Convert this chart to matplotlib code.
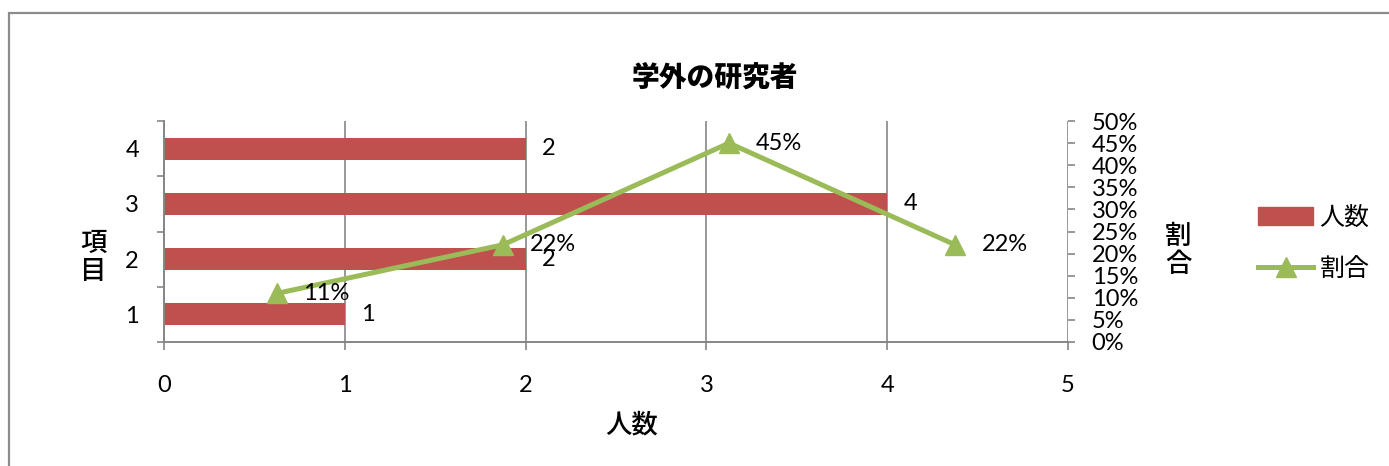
import matplotlib
matplotlib.use("Agg")
import matplotlib.pyplot as plt
from matplotlib.patches import Rectangle
from matplotlib.lines import Line2D
from matplotlib.patches import Patch
from matplotlib.ticker import PercentFormatter

plt.rcParams['font.family'] = ['Lato', 'Noto Sans CJK JP', 'DejaVu Sans']

items = [1, 2, 3, 4]
counts = [1, 2, 4, 2]
ratios = [0.11, 0.22, 0.45, 0.22]
ratio_labels = ['11%', '22%', '45%', '22%']

bar_color = '#C0504D'
line_color = '#9BBB59'
axis_gray = '#868686'

W, H = 1389, 466
fig = plt.figure(figsize=(W / 100, H / 100), dpi=100)

# chart frame, runs off the right and bottom edges
fig.add_artist(Rectangle((9 / W, -0.1), 1.2, 1.1 - 13 / H, transform=fig.transFigure,
                         fill=False, edgecolor='#8C8C8C', lw=1.6))

rect = [164 / W, 1 - 342 / H, (1068 - 164) / W, (342 - 121) / H]
ax = fig.add_axes(rect)

ax.barh(items, counts, height=0.4, color=bar_color, zorder=2)
for y, v in zip(items, counts):
    ax.annotate(str(v), (v, y), xytext=(12, 0), textcoords='offset points',
                ha='left', va='center', fontsize=17)

ax.set_xlim(0, 5)
ax.set_ylim(0.5, 4.5)
ax.set_xticks(range(6))
ax.set_yticks(items)
ax.set_yticks([0.5, 1.5, 2.5, 3.5, 4.5], minor=True)
ax.tick_params(axis='y', which='major', length=0, pad=18, labelsize=17)
ax.tick_params(axis='y', which='minor', length=5, color=axis_gray, width=1.2)
ax.tick_params(axis='x', length=6, color=axis_gray, width=1.2, pad=18, labelsize=17)
ax.grid(axis='x', color=axis_gray, lw=1.2, zorder=1)
for side in ['top', 'right']:
    ax.spines[side].set_visible(False)
for side in ['left', 'bottom']:
    ax.spines[side].set_color(axis_gray)
    ax.spines[side].set_linewidth(1.4)

# percentage line on its own category axis
ax2 = fig.add_axes(rect, frameon=False)
ax2.plot(range(len(ratios)), ratios, color=line_color, lw=3.6, marker='^',
         markersize=15, zorder=3)
for i, (r, lab) in enumerate(zip(ratios, ratio_labels)):
    ax2.annotate(lab, (i, r), xytext=(19, 0), textcoords='offset points',
                 ha='left', va='center', fontsize=17)
ax2.set_xlim(-0.5, len(ratios) - 0.5)
ax2.set_ylim(0, 0.5)
ax2.set_yticks([i * 0.05 for i in range(11)])
ax2.yaxis.set_major_formatter(PercentFormatter(1.0, decimals=0))
ax2.xaxis.set_visible(False)
ax2.yaxis.tick_right()
ax2.spines['right'].set_visible(True)
ax2.spines['right'].set_color(axis_gray)
ax2.spines['right'].set_linewidth(1.4)
ax2.tick_params(axis='y', length=5, color=axis_gray, width=1.2, pad=12, labelsize=17)

fig.text(715 / W, 1 - 77 / H, '学外の研究者', ha='center', va='center',
         fontsize=20, fontweight='heavy', family=['Noto Sans CJK JP'])
fig.text(632 / W, 1 - 425 / H, '人数', ha='center', va='center',
         fontsize=19, fontweight='medium', family=['Noto Sans CJK JP'])
fig.text(93 / W, 1 - 257 / H, '項\n目', ha='center', va='center',
         fontsize=19, fontweight='medium', linespacing=1.05, family=['Noto Sans CJK JP'])
fig.text(1178 / W, 1 - 250 / H, '割\n合', ha='center', va='center',
         fontsize=19, fontweight='medium', linespacing=1.05, family=['Noto Sans CJK JP'])

handles = [Patch(color=bar_color, label='人数'),
           Line2D([], [], color=line_color, lw=3.6, marker='^', markersize=15, label='割合')]
fig.legend(handles=handles, loc='center left', bbox_to_anchor=(1258 / W, 1 - 243 / H),
           frameon=False, borderpad=0, borderaxespad=0, handlelength=2.2,
           handletextpad=0.25, labelspacing=1.0,
           prop={'family': 'Noto Sans CJK JP', 'size': 18})

fig.savefig('out.png', dpi=100)
